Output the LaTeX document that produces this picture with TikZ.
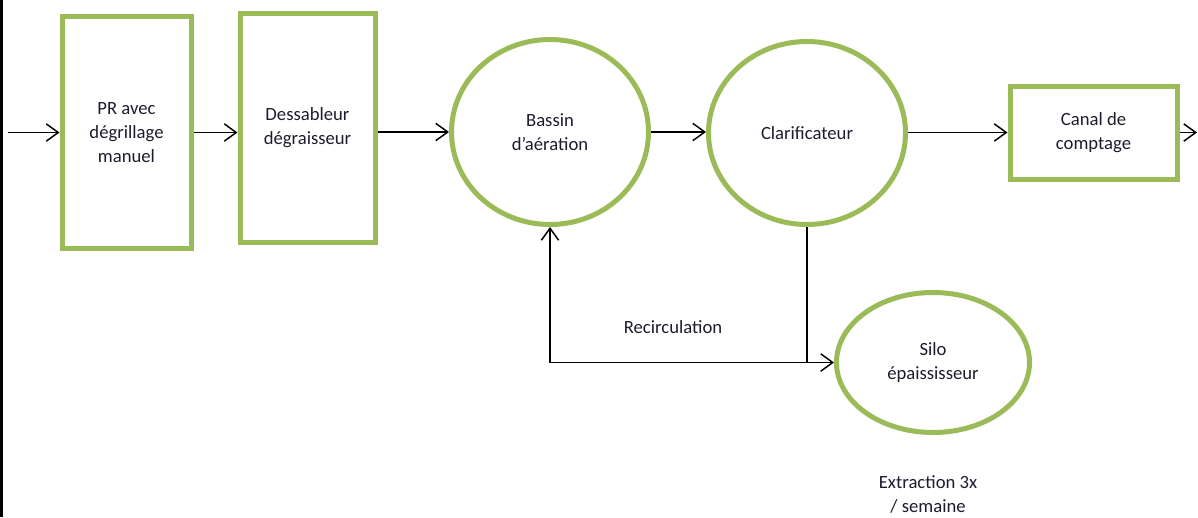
\documentclass[tikz,border=0pt]{standalone}
\usepackage{fontspec}
\setmainfont{Carlito}
\usetikzlibrary{shapes.geometric,arrows.meta}
\definecolor{basingreen}{RGB}{155,187,89}
\definecolor{labeltext}{RGB}{28,28,45}

\begin{document}
\begin{tikzpicture}[x=0.75pt,y=-0.75pt,
                    unit/.style={draw=basingreen, line width=3.75pt, align=center, inner sep=0pt},
                    tank/.style={ellipse, draw=basingreen, line width=3.75pt, align=center, inner sep=0pt},
                    flow/.style={-{Straight Barb[length=9pt,width=13pt]}, line width=1.1pt},
                    font=\fontsize{14}{18}\selectfont, text=labeltext
                    ]
    \useasboundingbox (0,0) rectangle (1198,517);
    \draw[line width=2.25pt] (1.5,0) -- (1.5,517);

    \node[unit, minimum width=96.75pt, minimum height=173.25pt] (pr) at (126.5,132.5) {PR avec\\dégrillage\\manuel};
    \node[unit, minimum width=101.25pt, minimum height=171pt] (dess) at (307.5,128) {Dessableur\\dégraisseur};
    \node[tank, minimum width=147.75pt, minimum height=138.75pt] (bassin) at (550,132) {Bassin\\d'aération};
    \node[tank, minimum width=147.75pt, minimum height=137.25pt] (clarif) at (807,133) {Clarificateur};
    \node[unit, minimum width=125.25pt, minimum height=69.75pt] (canal) at (1093.5,132.5) {Canal de\\comptage};
    \node[tank, minimum width=144.75pt, minimum height=105pt] (silo) at (933,362.5) {Silo\\épaississeur};
    \node (recirc) at (673,327) {Recirculation};
    \node[align=center] (extract) at (928,494) {Extraction 3x\\/ semaine};

    \coordinate (in) at (8,132.5);
    \coordinate (out) at (1197,132.5);
    \coordinate (junc) at (clarif.south |- silo.west);

    \draw[flow] (in) -- (pr.west);
    \draw[flow] (pr.east) -- (pr.east -| dess.west);
    \draw[flow] (dess.east |- bassin.west) -- (bassin.west);
    \draw[flow] (bassin.east) -- (bassin.east -| clarif.west);
    \draw[flow] (clarif.east |- canal.west) -- (canal.west);
    \draw[flow] (canal.east) -- (out);
    \draw[flow] (clarif.south) -- (junc) -| (bassin.south);
    \draw[flow] (junc) -- (silo.west);
\end{tikzpicture}
\end{document}
